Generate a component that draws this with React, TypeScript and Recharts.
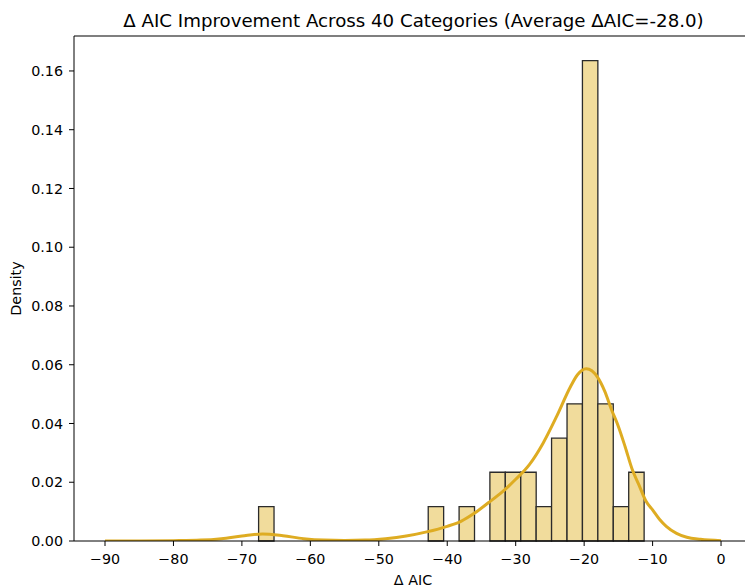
import { ComposedChart, Line, XAxis, YAxis, ReferenceArea, ReferenceLine } from 'recharts';

// histogram bins (left edge) and densities
const binWidth = 2.253;
const binLeft = [-67.56, -42.78, -38.27, -33.77, -31.52, -29.26, -27.01, -24.76, -22.5, -20.25, -18.0, -15.74, -13.49];
const binDensity = [0.0117, 0.0117, 0.0117, 0.0234, 0.0234, 0.0234, 0.0117, 0.035, 0.0467, 0.1635, 0.0467, 0.0117, 0.0234];

// kde curve
const kdeX = [-90, -85, -80, -76, -73, -70, -67, -64, -61, -58, -55, -52, -49, -46, -43, -40, -38, -36, -34, -32, -30, -28, -26, -24, -22, -21, -19.7, -18, -17, -16, -15, -14, -13, -12, -11, -10, -9, -8, -6.5, -5, -3, 0];
const kdeY = [0, 0, 0.0001, 0.0003, 0.0008, 0.0017, 0.0024, 0.0018, 0.0008, 0.0003, 0.0002, 0.0003, 0.0008, 0.0017, 0.0031, 0.005, 0.0067, 0.0095, 0.013, 0.0166, 0.021, 0.026, 0.0333, 0.0425, 0.0525, 0.0565, 0.0586, 0.0556, 0.051, 0.0447, 0.039, 0.032, 0.0245, 0.0191, 0.0137, 0.0106, 0.0074, 0.005, 0.0026, 0.0013, 0.0006, 0.0001];

const xTicks = [-90, -80, -70, -60, -50, -40, -30, -20, -10, 0];
const yTicks = [0, 0.02, 0.04, 0.06, 0.08, 0.1, 0.12, 0.14, 0.16];

const title = 'Δ AIC Improvement Across 40 Categories (Average ΔAIC=-28.0)';
const font = 'DejaVu Sans, sans-serif';

const kdeData = kdeX.map((x, i) => ({ x, kde: kdeY[i] }));
const yMax = 0.1719;

const fmtX = (v: number) => (v < 0 ? '\u2212' + Math.abs(v) : String(v));

export default function App() {
    return (
        <div style={{ position: 'absolute', left: 0, top: 0, width: 745, height: 587, background: '#fff' }}>
            <ComposedChart width={745} height={587} data={kdeData} margin={{ top: 36, right: 0, bottom: 0, left: 0 }}>
                <XAxis
                    dataKey="x"
                    type="number"
                    domain={[-94.53, 3.5]}
                    allowDataOverflow
                    ticks={xTicks}
                    tickFormatter={fmtX}
                    height={46}
                    tickSize={5}
                    tickMargin={8}
                    stroke="#000"
                    tick={{ fill: '#000', fontSize: 14.3, fontFamily: font }}
                />
                <YAxis
                    type="number"
                    domain={[0, yMax]}
                    allowDataOverflow
                    ticks={yTicks}
                    tickFormatter={(v: number) => v.toFixed(2)}
                    width={74}
                    tickSize={5}
                    tickMargin={6}
                    stroke="#000"
                    tick={{ fill: '#000', fontSize: 14.3, fontFamily: font }}
                />
                <ReferenceLine y={yMax} stroke="#000" strokeWidth={1.1} />
                {binLeft.map((l, i) => (
                    <ReferenceArea
                        key={i}
                        x1={l}
                        x2={l + binWidth}
                        y1={0}
                        y2={binDensity[i]}
                        fill="#f1dc9c"
                        fillOpacity={1}
                        stroke="#2b2b2b"
                        strokeWidth={1.3}
                    />
                ))}
                <Line type="monotone" dataKey="kde" stroke="#DEAC22" strokeWidth={3} dot={false} isAnimationActive={false} />
            </ComposedChart>
            <svg width={745} height={587} style={{ position: 'absolute', left: 0, top: 0, pointerEvents: 'none' }}>
                <text x={413.5} y={27} textAnchor="middle" fontSize={18.2} fontFamily={font} fill="#000">{title}</text>
                <text x={413} y={585} textAnchor="middle" fontSize={14.3} fontFamily={font} fill="#000">Δ AIC</text>
                <text x={21} y={288.5} textAnchor="middle" fontSize={14.3} fontFamily={font} fill="#000" transform="rotate(-90 21 288.5)">Density</text>
            </svg>
        </div>
    );
}
